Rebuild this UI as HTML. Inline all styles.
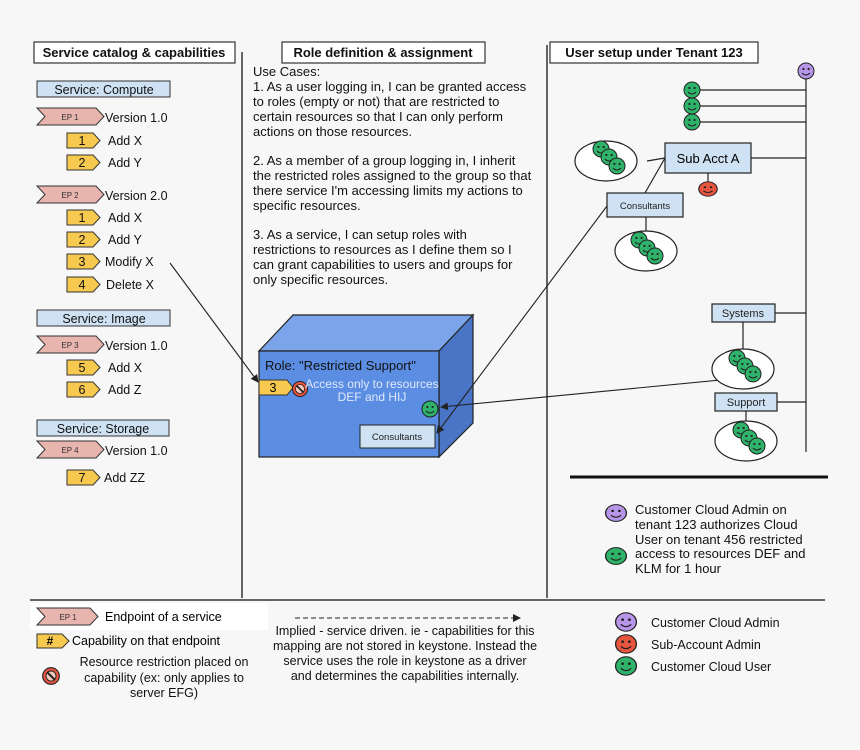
<!DOCTYPE html>
<html><head><style>
html,body{margin:0;padding:0;background:#f7f7f7;}
svg{display:block;font-family:"Liberation Sans",sans-serif;}
</style></head><body>
<svg width="860" height="750" viewBox="0 0 860 750" xmlns="http://www.w3.org/2000/svg">
<defs>
<symbol id="sg" viewBox="-9 -9 18 18" overflow="visible"><circle r="8" fill="#2fb36b" stroke="#222" stroke-width="1"/><circle cx="-2.6" cy="-2" r="1.1" fill="#222"/><circle cx="2.6" cy="-2" r="1.1" fill="#222"/><path d="M-4,2 Q0,6 4,2" fill="none" stroke="#222" stroke-width="1"/></symbol>
<symbol id="sp" viewBox="-9 -9 18 18" overflow="visible"><circle r="8" fill="#b795e8" stroke="#222" stroke-width="1"/><circle cx="-2.6" cy="-2" r="1.1" fill="#222"/><circle cx="2.6" cy="-2" r="1.1" fill="#222"/><path d="M-4,2 Q0,6 4,2" fill="none" stroke="#222" stroke-width="1"/></symbol>
<symbol id="sr" viewBox="-9 -9 18 18" overflow="visible"><circle r="8" fill="#e8553f" stroke="#222" stroke-width="1"/><circle cx="-2.6" cy="-2" r="1.1" fill="#222"/><circle cx="2.6" cy="-2" r="1.1" fill="#222"/><path d="M-4,2 Q0,6 4,2" fill="none" stroke="#222" stroke-width="1"/></symbol>
<symbol id="no" viewBox="-9 -9 18 18" overflow="visible"><circle r="7.5" fill="#e8553f" stroke="#222" stroke-width="1"/><circle r="4.5" fill="#f4c9c0" stroke="#222" stroke-width="0.8"/><line x1="-3.5" y1="-3.5" x2="3.5" y2="3.5" stroke="#222" stroke-width="1.8"/></symbol>
<marker id="ar" markerWidth="8" markerHeight="8" refX="7" refY="4" orient="auto" markerUnits="userSpaceOnUse"><path d="M0,0 L8,4 L0,8 z" fill="#222"/></marker>
</defs>

<g stroke="#333" stroke-width="1.2" fill="#fff">
<rect x="34" y="42" width="201" height="21"/>
<rect x="282" y="42" width="203" height="21"/>
<rect x="550" y="42" width="208" height="21"/>
</g>
<g font-weight="bold" font-size="13" text-anchor="middle" fill="#111">
<text x="134" y="57">Service catalog &amp; capabilities</text>
<text x="383" y="57">Role definition &amp; assignment</text>
<text x="654" y="57">User setup under Tenant 123</text>
</g>
<g stroke="#333" stroke-width="1.5">
<line x1="242" y1="52" x2="242" y2="598"/>
<line x1="547" y1="45" x2="547" y2="598"/>
<line x1="30" y1="600" x2="825" y2="600"/>
</g>
<line x1="570" y1="477" x2="828" y2="477" stroke="#111" stroke-width="3"/>

<g stroke="#333" stroke-width="1" fill="#cfe2f3">
<rect x="37" y="81" width="133" height="16"/>
<rect x="37" y="310" width="133" height="16"/>
<rect x="37" y="420" width="132" height="16"/>
</g>
<g font-size="12.5" text-anchor="middle" fill="#111">
<text x="104" y="94">Service: Compute</text>
<text x="104" y="323">Service: Image</text>
<text x="103" y="433">Service: Storage</text>
</g>
<g fill="#e8b4ae" stroke="#333" stroke-width="1">
<path d="M37,108 H96 L104,116.5 L96,125 H37 L45,116.5 Z"/>
<path d="M37,186 H96 L104,194.5 L96,203 H37 L45,194.5 Z"/>
<path d="M37,336 H96 L104,344.5 L96,353 H37 L45,344.5 Z"/>
<path d="M37,441 H96 L104,449.5 L96,458 H37 L45,449.5 Z"/>
</g>
<g font-size="8" fill="#333" text-anchor="middle">
<text x="70" y="120">EP 1</text><text x="70" y="198">EP 2</text><text x="70" y="348">EP 3</text><text x="70" y="453">EP 4</text>
</g>
<g font-size="12.5" fill="#111">
<text x="105" y="122">Version 1.0</text>
<text x="105" y="200">Version 2.0</text>
<text x="105" y="350">Version 1.0</text>
<text x="105" y="455">Version 1.0</text>
</g>
<g fill="#f7c94f" stroke="#333" stroke-width="1">
<path d="M67,133 H93 L100,140.5 L93,148 H67 Z"/>
<path d="M67,155 H93 L100,162.5 L93,170 H67 Z"/>
<path d="M67,210 H93 L100,217.5 L93,225 H67 Z"/>
<path d="M67,232 H93 L100,239.5 L93,247 H67 Z"/>
<path d="M67,254 H93 L100,261.5 L93,269 H67 Z"/>
<path d="M67,277 H93 L100,284.5 L93,292 H67 Z"/>
<path d="M67,360 H93 L100,367.5 L93,375 H67 Z"/>
<path d="M67,382 H93 L100,389.5 L93,397 H67 Z"/>
<path d="M67,470 H93 L100,477.5 L93,485 H67 Z"/>
</g>
<g font-size="12.5" fill="#111" text-anchor="middle">
<text x="82" y="145">1</text><text x="82" y="167">2</text><text x="82" y="222">1</text><text x="82" y="244">2</text><text x="82" y="266">3</text><text x="82" y="289">4</text><text x="82" y="372">5</text><text x="82" y="394">6</text><text x="82" y="482">7</text>
</g>
<g font-size="12.5" fill="#111">
<text x="108" y="145">Add X</text><text x="108" y="167">Add Y</text><text x="108" y="222">Add X</text><text x="108" y="244">Add Y</text><text x="105" y="266">Modify X</text><text x="106" y="289">Delete X</text><text x="108" y="372">Add X</text><text x="108" y="394">Add Z</text><text x="104" y="482">Add ZZ</text>
</g>

<g font-size="13" fill="#111">
<text x="253" y="76">Use Cases:</text>
<text x="253" y="91">1. As a user logging in, I can be granted access</text>
<text x="253" y="106">to roles (empty or not) that are restricted to</text>
<text x="253" y="121">certain resources so that I can only perform</text>
<text x="253" y="136">actions on those resources.</text>
<text x="253" y="165">2. As a member of a group logging in, I inherit</text>
<text x="253" y="180">the restricted roles assigned to the group so that</text>
<text x="253" y="195">there service I'm accessing limits my actions to</text>
<text x="253" y="210">specific resources.</text>
<text x="253" y="239">3. As a service, I can setup roles with</text>
<text x="253" y="254">restrictions to resources as I define them so I</text>
<text x="253" y="269">can grant capabilities to users and groups for</text>
<text x="253" y="284">only specific resources.</text>
</g>

<g stroke="#222" stroke-width="1.2">
<path d="M259,351 L293,315 H473 L439,351 Z" fill="#7ba4ea"/>
<path d="M439,351 L473,315 V423 L439,457 Z" fill="#4a74c6"/>
<rect x="259" y="351" width="180" height="106" fill="#5b8ee2"/>
</g>
<text x="265" y="370" font-size="13" fill="#111">Role: "Restricted Support"</text>
<path d="M259,380 H287 L293,387.5 L287,395 H259 Z" fill="#f7c94f" stroke="#333"/>
<text x="273" y="392" font-size="12.5" text-anchor="middle">3</text>
<use href="#no" x="291" y="380" width="18" height="18"/>
<g font-size="12" fill="#dfe8fa" text-anchor="middle"><text x="372" y="388">Access only to resources</text><text x="372" y="401">DEF and HIJ</text></g>
<use href="#sg" x="421" y="400" width="18" height="18"/>
<rect x="360" y="425" width="75" height="23" fill="#cfe2f3" stroke="#222"/>
<text x="397" y="440" font-size="9.5" text-anchor="middle" fill="#222">Consultants</text>

<g stroke="#222" stroke-width="1.1" fill="none">
<line x1="170" y1="263" x2="258" y2="382" marker-end="url(#ar)"/>
<line x1="741" y1="378" x2="441" y2="407" marker-end="url(#ar)"/>
<line x1="607" y1="206" x2="437" y2="433" marker-end="url(#ar)"/>
</g>

<g stroke="#222" stroke-width="1.2" fill="none">
<line x1="806" y1="75" x2="806" y2="452"/>
<line x1="692" y1="90" x2="806" y2="90"/>
<line x1="692" y1="106" x2="806" y2="106"/>
<line x1="692" y1="122" x2="806" y2="122"/>
<line x1="751" y1="158" x2="806" y2="158"/>
<line x1="708" y1="173" x2="708" y2="183"/>
<line x1="647" y1="161" x2="665" y2="158"/>
<line x1="665" y1="158" x2="645" y2="193"/>
<line x1="646" y1="217" x2="646" y2="232"/>
<line x1="775" y1="313" x2="806" y2="313"/>
<line x1="743" y1="322" x2="743" y2="349"/>
<line x1="777" y1="402" x2="806" y2="402"/>
<line x1="746" y1="411" x2="746" y2="421"/>
</g>
<use href="#sp" x="797" y="62" width="18" height="18"/>
<use href="#sg" x="683" y="81" width="18" height="18"/>
<use href="#sg" x="683" y="97" width="18" height="18"/>
<use href="#sg" x="683" y="113" width="18" height="18"/>
<rect x="665" y="143" width="86" height="30" fill="#cfe2f3" stroke="#222" stroke-width="1.2"/>
<text x="708" y="163" font-size="13" text-anchor="middle">Sub Acct A</text>
<g transform="translate(708,189) scale(1.15,0.9)"><use href="#sr" x="-9" y="-9" width="18" height="18"/></g>
<rect x="607" y="193" width="76" height="24" fill="#cfe2f3" stroke="#222" stroke-width="1.2"/>
<text x="645" y="209" font-size="9.5" text-anchor="middle" fill="#222">Consultants</text>
<rect x="712" y="304" width="63" height="18" fill="#cfe2f3" stroke="#222" stroke-width="1.2"/>
<text x="743" y="317" font-size="11" text-anchor="middle" fill="#222">Systems</text>
<rect x="715" y="393" width="62" height="18" fill="#cfe2f3" stroke="#222" stroke-width="1.2"/>
<text x="746" y="406" font-size="11" text-anchor="middle" fill="#222">Support</text>
<g fill="#fff" stroke="#222" stroke-width="1.2">
<ellipse cx="606" cy="161" rx="31" ry="20"/>
<ellipse cx="646" cy="251" rx="31" ry="20"/>
<ellipse cx="743" cy="369" rx="31" ry="20"/>
<ellipse cx="746" cy="441" rx="31" ry="20"/>
</g>
<g>
<use href="#sg" x="592" y="140" width="18" height="18"/><use href="#sg" x="600" y="148" width="18" height="18"/><use href="#sg" x="608" y="157" width="18" height="18"/>
<use href="#sg" x="630" y="231" width="18" height="18"/><use href="#sg" x="638" y="239" width="18" height="18"/><use href="#sg" x="646" y="247" width="18" height="18"/>
<use href="#sg" x="728" y="349" width="18" height="18"/><use href="#sg" x="736" y="357" width="18" height="18"/><use href="#sg" x="744" y="365" width="18" height="18"/>
<use href="#sg" x="732" y="421" width="18" height="18"/><use href="#sg" x="740" y="429" width="18" height="18"/><use href="#sg" x="748" y="437" width="18" height="18"/>
</g>

<g transform="translate(616,513) scale(1.3,1.05)"><use href="#sp" x="-9" y="-9" width="18" height="18"/></g>
<g transform="translate(616,556) scale(1.3,1.05)"><use href="#sg" x="-9" y="-9" width="18" height="18"/></g>
<g font-size="13" fill="#111">
<text x="635" y="514">Customer Cloud Admin on</text>
<text x="635" y="529">tenant 123 authorizes Cloud</text>
<text x="635" y="544">User on tenant 456 restricted</text>
<text x="635" y="558">access to resources DEF and</text>
<text x="635" y="573">KLM for 1 hour</text>
</g>

<rect x="30" y="603" width="238" height="27" fill="#fff"/>
<path d="M37,608 H90 L98,616.5 L90,625 H37 L45,616.5 Z" fill="#e8b4ae" stroke="#333"/>
<text x="68" y="620" font-size="8" text-anchor="middle" fill="#333">EP 1</text>
<text x="105" y="621" font-size="12.5">Endpoint of a service</text>
<path d="M37,634 H62 L69,641 L62,648 H37 Z" fill="#f7c94f" stroke="#333"/>
<text x="50" y="645" font-size="12" font-weight="bold" text-anchor="middle">#</text>
<text x="72" y="645" font-size="12.5">Capability on that endpoint</text>
<use href="#no" x="41" y="666" width="20" height="20"/>
<g font-size="12.5" text-anchor="middle" fill="#111">
<text x="164" y="666">Resource restriction placed on</text>
<text x="164" y="682">capability (ex: only applies to</text>
<text x="164" y="697">server EFG)</text>
</g>
<line x1="295" y1="618" x2="520" y2="618" stroke="#222" stroke-width="1" stroke-dasharray="5,3" marker-end="url(#ar)"/>
<g font-size="12.5" text-anchor="middle" fill="#111">
<text x="405" y="635">Implied - service driven. ie - capabilities for this</text>
<text x="405" y="650">mapping are not stored in keystone. Instead the</text>
<text x="405" y="665">service uses the role in keystone as a driver</text>
<text x="405" y="680">and determines the capabilities internally.</text>
</g>
<g transform="translate(626,622) scale(1.3,1.15)"><use href="#sp" x="-9" y="-9" width="18" height="18"/></g>
<g transform="translate(626,644) scale(1.3,1.15)"><use href="#sr" x="-9" y="-9" width="18" height="18"/></g>
<g transform="translate(626,666) scale(1.3,1.15)"><use href="#sg" x="-9" y="-9" width="18" height="18"/></g>
<g font-size="12.5" fill="#111">
<text x="651" y="627">Customer Cloud Admin</text>
<text x="651" y="649">Sub-Account Admin</text>
<text x="651" y="671">Customer Cloud User</text>
</g>
</svg>
</body></html>
